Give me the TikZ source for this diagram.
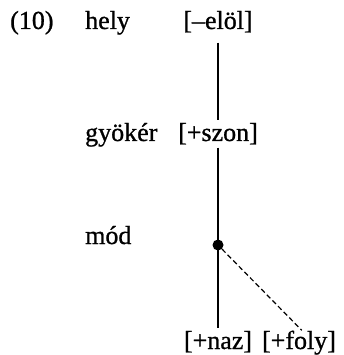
\documentclass[tikz,border=0pt]{standalone}
\usepackage{fontspec}
\setmainfont{Liberation Serif}
\newfontfamily\scanfont{Liberation Serif}[FakeBold=0.9]
\begin{document}
\begin{tikzpicture}[x=1pt,y=-1pt,
	every node/.style={font=\scanfont\fontsize{26}{30}\selectfont, inner sep=3pt},
	lbl/.style={anchor=base west},
	feat/.style={anchor=base},
	tie/.style={line width=1.8pt},
	dtie/.style={line width=1.2pt, dash pattern=on 5pt off 3pt}]%
	\useasboundingbox (0,0) rectangle (344,355);
	\node[lbl] (nr) at (7,29) {(10)};
	\node[lbl] (hely) at (82,29) {hely};
	\node[lbl] (gyok) at (82,141) {gyökér};
	\node[lbl] (mod) at (82,244) {mód};
	\node[feat] (elol) at (218,29) {[–elöl]};
	\node[feat] (szon) at (218,141) {[+szon]};
	\node[feat] (naz) at (218,349) {[+naz]};
	\node[feat] (foly) at (299,349) {[+foly]};
	\node[circle, fill, inner sep=0pt, minimum size=11pt] (dot) at (218,245) {};
	\draw[tie, shorten <=7pt] (elol) -- (szon);
	\draw[tie] (szon) -- (dot.center) -- (naz);
	\draw[dtie, shorten >=-4pt] (dot) -- (foly.north);
\end{tikzpicture}
\end{document}
